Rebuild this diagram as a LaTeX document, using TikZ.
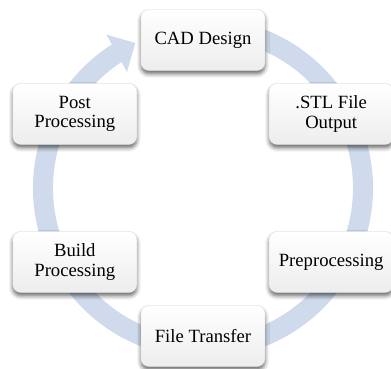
\documentclass[tikz,border=0pt]{standalone}
\usepackage{fontspec}
\setmainfont{Liberation Serif}
\usepackage{xcolor}
\usepackage{tikz}
\usetikzlibrary{arrows.meta,bending,shadows.blur}

\definecolor{cyclblue}{HTML}{CFDBEC}
\tikzset{
  stage/.style={rounded corners=6pt, minimum width=93pt, minimum height=45.75pt,
    align=center, inner sep=2pt, draw=gray!25, line width=0.3pt,
    top color=white, bottom color=gray!14,
    blur shadow={shadow xshift=0pt, shadow yshift=-2.5pt, shadow blur radius=3pt, shadow opacity=60},
    font=\fontsize{14}{14.5}\selectfont}
}

\begin{document}
\begin{tikzpicture}
\useasboundingbox (-152.25pt,-135pt) rectangle (141pt,141pt);
\draw[line width=15pt, cyclblue, -{Triangle[flex, width=31pt, length=16pt]}]
(80:120pt) arc [start angle=80, end angle=-245, radius=120pt];
\node[stage] (cad)   at (90:111pt)  {CAD Design};
\node[stage] (stl)   at (30:111pt)  {.STL File\\Output};
\node[stage] (prep)  at (-30:111pt) {Preprocessing};
\node[stage] (trans) at (-90:111pt) {File Transfer};
\node[stage] (build) at (210:111pt) {Build\\Processing};
\node[stage] (post)  at (150:111pt) {Post\\Processing};
\end{tikzpicture}
\end{document}
